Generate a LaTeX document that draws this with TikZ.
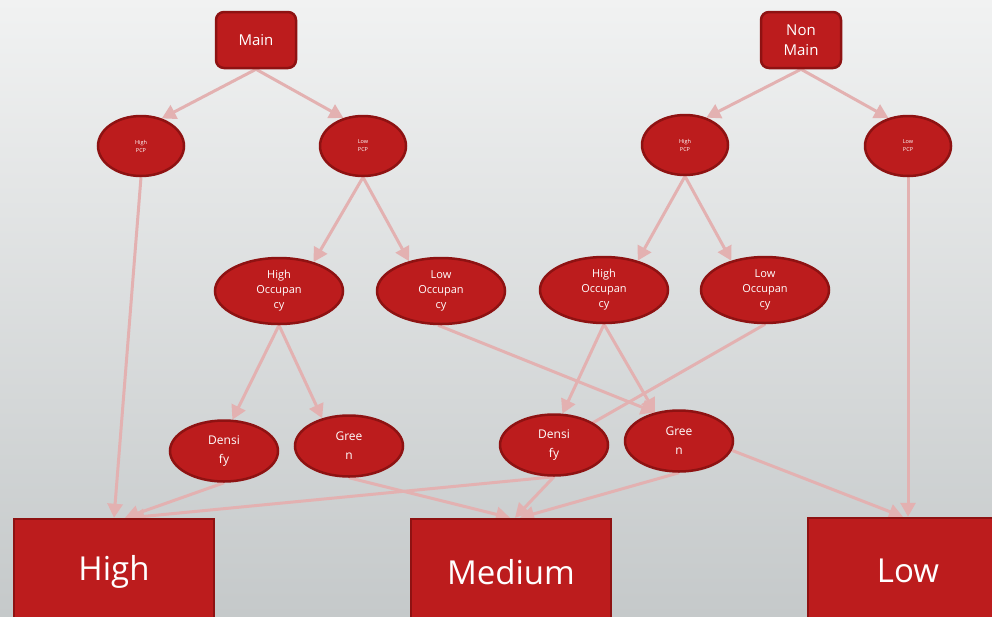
\documentclass[tikz,border=0pt]{standalone}
\usepackage{fontspec}
\setmainfont{Open Sans}
\usetikzlibrary{shapes.geometric,arrows.meta,backgrounds}
\definecolor{nodeRed}{HTML}{BC1C1D}
\definecolor{nodeBorder}{HTML}{8E1212}
\definecolor{edgePink}{HTML}{E3B1B1}
\definecolor{bgTop}{HTML}{F1F2F2}
\definecolor{bgBottom}{HTML}{C5C9CA}
\tikzset{
		edgeStyle/.style = {draw=edgePink, line width=3pt, -{Triangle[length=14pt,width=15pt]}},
		plainEdge/.style = {draw=edgePink, line width=3pt},
		baseNode/.style =  {draw=nodeBorder, fill=nodeRed, line width=2.5pt, text=white, align=center, inner sep=0pt},
		topBox/.style =    {baseNode, rectangle, rounded corners=8pt, minimum width=80pt, minimum height=56pt, font=\fontsize{15}{20}\selectfont},
		pcpNode/.style =   {baseNode, ellipse, minimum width=86pt, minimum height=60pt, font=\fontsize{5.5}{8}\selectfont},
		occNode/.style =   {baseNode, ellipse, minimum width=128pt, minimum height=66pt, font=\fontsize{11}{15}\selectfont},
		leafNode/.style =  {baseNode, ellipse, minimum width=108pt, minimum height=61pt, font=\fontsize{12}{19}\selectfont},
    resultBox/.style = {baseNode, rectangle, minimum width=200pt, minimum height=106pt, font=\fontsize{33}{40}\selectfont}
}

\begin{document}
\begin{tikzpicture}[x=1pt,y=-1pt]
  \useasboundingbox (0,0) rectangle (992,616);

  % Top level
  \node [topBox] (main) at (256,40) {Main};
  \node [topBox] (nonMain) at (801,40) {Non\\Main};

  % PCP level
  \node [pcpNode] (highPcpA) at (141,146) {High\\PCP};
  \node [pcpNode] (lowPcpA) at (363,146) {Low\\PCP};
  \node [pcpNode] (highPcpB) at (685,145) {High\\PCP};
  \node [pcpNode] (lowPcpB) at (908,146) {Low\\PCP};

  % Occupancy level
  \node [occNode] (highOccA) at (279,291) {High\\Occupan\\cy};
  \node [occNode] (lowOccA) at (441,291) {Low\\Occupan\\cy};
  \node [occNode] (highOccB) at (604,290) {High\\Occupan\\cy};
  \node [occNode] (lowOccB) at (765,290) {Low\\Occupan\\cy};

  % Densify / Green level
  \node [leafNode] (densifyA) at (224,451) {Densi\\fy};
  \node [leafNode] (greenA) at (349,446) {Gree\\n};
  \node [leafNode] (densifyB) at (554,445) {Densi\\fy};
  \node [leafNode] (greenB) at (679,441) {Gree\\n};

  % Results
  \node [resultBox] (high) at (114,572) {High};
  \node [resultBox] (medium) at (511,572) {Medium};
  \node [resultBox] (low) at (908,571) {Low};

  \begin{scope}[on background layer]
    \fill [top color=bgTop, bottom color=bgBottom] (0,0) rectangle (992,616);

    % Main and Non Main branches
    \draw [edgeStyle] (main.south) -- (highPcpA.53);
    \draw [edgeStyle] (main.south) -- (lowPcpA.125);
    \draw [edgeStyle] (nonMain.south) -- (highPcpB.52);
    \draw [edgeStyle] (nonMain.south) -- (lowPcpB.125);

    % PCP to occupancy
    \draw [edgeStyle] (highPcpA.south) -- (high.north);
    \draw [edgeStyle] (lowPcpA.south) -- (highOccA.40);
    \draw [edgeStyle] (lowPcpA.south) -- (lowOccA.137);
    \draw [edgeStyle] (highPcpB.south) -- (highOccB.41);
    \draw [edgeStyle] (highPcpB.south) -- (lowOccB.139);
    \draw [edgeStyle] (lowPcpB.south) -- (low.north);

    % Occupancy to Densify / Green
    \draw [edgeStyle] (highOccA.south) -- (densifyA.75);
    \draw [edgeStyle] (highOccA.south) -- (greenA.134);
    \draw [edgeStyle] (lowOccA.265) -- (greenB.130);
    \draw [edgeStyle] (highOccB.south) -- (densifyB.75);
    \draw [edgeStyle] (highOccB.south) -- (greenB.130);
    \draw [plainEdge] (lowOccB.south) -- (densifyB.center);

    % Densify / Green to results
    \draw [edgeStyle] (densifyA.south) -- ([xshift=11pt]high.north);
    \draw [edgeStyle] (densifyB.south) -- ([xshift=16pt]high.north);
    \draw [edgeStyle] (greenA.south) -- ([xshift=-1pt]medium.north);
    \draw [edgeStyle] (densifyB.south) -- ([xshift=4pt]medium.north);
    \draw [edgeStyle] (greenB.south) -- ([xshift=9pt]medium.north);
    \draw [edgeStyle] (greenB.-10) -- ([xshift=-5pt]low.north);
  \end{scope}
\end{tikzpicture}
\end{document}
